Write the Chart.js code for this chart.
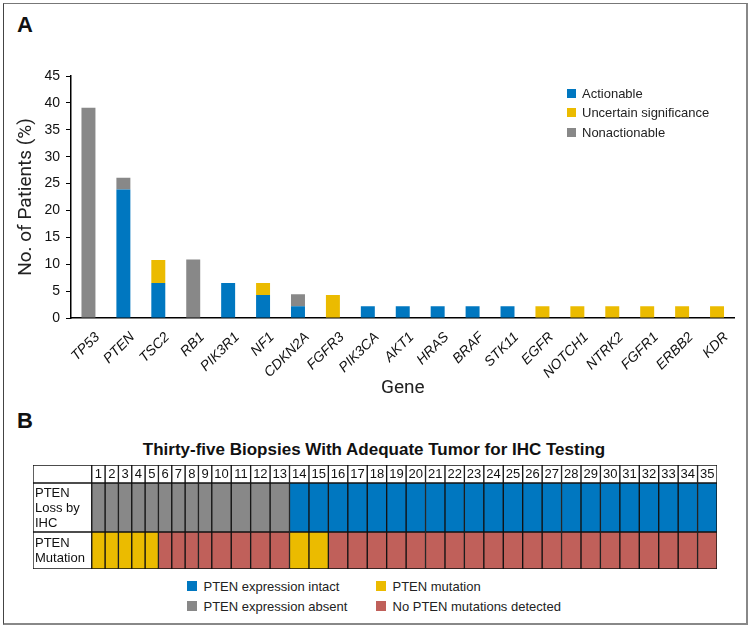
<!DOCTYPE html>
<html><head><meta charset="utf-8">
<script src="https://cdn.jsdelivr.net/npm/chart.js@4/dist/chart.umd.min.js"></script>
<style>
html,body{margin:0;padding:0;background:#fff;}
body{width:750px;height:628px;position:relative;overflow:hidden;font-family:"Liberation Sans",Arial,sans-serif;color:#1a1a1a;}
#frame{position:absolute;left:3px;top:3px;width:742px;height:619px;border-left:1px solid #444;border-top:1px solid #777;border-right:2px solid #888;border-bottom:2px solid #888;}
.abs{position:absolute;white-space:nowrap;line-height:1;}
.panel{font-weight:bold;font-size:22px;color:#111;}
.sq{position:absolute;}
.lg{position:absolute;font-size:13px;line-height:1;white-space:nowrap;color:#222;}
canvas{position:absolute;}
</style>
</head>
<body>
<div id="frame"></div>
<div class="abs panel" style="left:17px;top:14px;">A</div>
<div class="abs panel" style="left:17px;top:410px;">B</div>
<div class="abs" id="titleB" style="left:0;width:748px;text-align:center;top:441px;font-weight:bold;font-size:17px;color:#111;">Thirty-five Biopsies With Adequate Tumor for IHC Testing</div>
<canvas id="chartA" width="750" height="400" style="left:0;top:0;"></canvas>
<canvas id="rowHead" width="684" height="18" style="left:33px;top:465px;"></canvas>
<canvas id="rowIHC" width="684" height="49" style="left:33px;top:483px;"></canvas>
<canvas id="rowMut" width="684" height="37" style="left:33px;top:532px;"></canvas>
<div id="legendA"></div>
<div id="legendB"></div>
<script>
// ---------- Panel A data ----------
const genes = ['TP53','PTEN','TSC2','RB1','PIK3R1','NF1','CDKN2A','FGFR3','PIK3CA','AKT1','HRAS','BRAF','STK11','EGFR','NOTCH1','NTRK2','FGFR1','ERBB2','KDR'];
const actionable    = [0, 23.9, 6.5, 0, 6.5, 4.3, 2.2, 0, 2.2, 2.2, 2.2, 2.2, 2.2, 0, 0, 0, 0, 0, 0];
const uncertain     = [0, 0, 4.3, 0, 0, 2.2, 0, 4.3, 0, 0, 0, 0, 0, 2.2, 2.2, 2.2, 2.2, 2.2, 2.2];
const nonactionable = [39.1, 2.2, 0, 10.9, 0, 0, 2.2, 0, 0, 0, 0, 0, 0, 0, 0, 0, 0, 0, 0];
const seriesNames = ['Actionable','Uncertain significance','Nonactionable'];
const yTicks = [0,5,10,15,20,25,30,35,40,45];

// ---------- Panel B data ----------
const sampleLabels = ['1','2','3','4','5','6','7','8','9','10','11','12','13','14','15','16','17','18','19','20','21','22','23','24','25','26','27','28','29','30','31','32','33','34','35'];
const rowLabelIHC = ['PTEN','Loss by','IHC'];
const rowLabelMut = ['PTEN','Mutation'];
const ihcStatus = ['absent','absent','absent','absent','absent','absent','absent','absent','absent','absent','absent','absent','absent',
  'intact','intact','intact','intact','intact','intact','intact','intact','intact','intact','intact','intact','intact','intact','intact','intact','intact','intact','intact','intact','intact','intact'];
const mutationStatus = ['mutation','mutation','mutation','mutation','mutation','none','none','none','none','none','none','none','none',
  'mutation','mutation','none','none','none','none','none','none','none','none','none','none','none','none','none','none','none','none','none','none','none','none'];
const legendBNames = {intact:'PTEN expression intact', mutation:'PTEN mutation', absent:'PTEN expression absent', none:'No PTEN mutations detected'};

// ---------- styles ----------
const BLUE = '#0077c0', YELLOW = '#ebbb00', GRAY = '#888888', RED = '#c0605a';
const seriesColors = [BLUE, YELLOW, GRAY];
const statusColors = {intact: BLUE, absent: GRAY, mutation: YELLOW, none: RED};
const FONT = '"Liberation Sans", Arial, sans-serif';
const COND = 'Roboto, "Liberation Sans", sans-serif';

// ---------- Chart A ----------
new Chart(document.getElementById('chartA'), {
  type: 'bar',
  data: {
    labels: genes,
    datasets: [actionable, uncertain, nonactionable].map((d, i) => ({
      label: seriesNames[i], data: d, backgroundColor: seriesColors[i], borderWidth: 0,
      barPercentage: 0.4, categoryPercentage: 1.0
    }))
  },
  options: {
    responsive: false, animation: false, devicePixelRatio: 1,
    layout: {padding: {top: 76, right: 15.5, left: 0, bottom: 0}},
    plugins: {legend: {display: false}, tooltip: {enabled: false}},
    scales: {
      x: {
        stacked: true,
        grid: {display: false},
        border: {display: true, color: '#000', width: 1.5},
        ticks: {font: {family: FONT, size: 14, style: 'italic'}, color: '#111', minRotation: 45, maxRotation: 45, autoSkip: false, padding: 3, labelOffset: 9},
        title: {display: true, text: 'Gene', font: {family: COND, size: 19}, color: '#222', padding: {top: 0, bottom: 0}},
        afterFit: s => { s.height = 82; }
      },
      y: {
        stacked: true, min: 0, max: 45,
        afterBuildTicks: s => { s.ticks = yTicks.map(v => ({value: v})); },
        ticks: {font: {family: FONT, size: 14}, color: '#111', padding: 6},
        grid: {drawOnChartArea: false, drawTicks: true, tickLength: 5, color: '#000', lineWidth: 1},
        border: {display: true, color: '#000', width: 1.5},
        title: {display: true, text: 'No. of Patients (%)', font: {family: COND, size: 19}, color: '#222', padding: {top: 15, bottom: 0}},
        afterFit: s => { s.width = 71; }
      }
    }
  }
});

// ---------- Legends (HTML) ----------
function legendItem(parent, color, text, sqLeft, sqTop, sqSize, txtLeft, txtTop) {
  const s = document.createElement('div');
  s.className = 'sq';
  s.style.cssText = `left:${sqLeft}px;top:${sqTop}px;width:${sqSize}px;height:${sqSize}px;background:${color};`;
  parent.appendChild(s);
  const t = document.createElement('div');
  t.className = 'lg';
  t.style.cssText = `left:${txtLeft}px;top:${txtTop}px;`;
  t.textContent = text;
  parent.appendChild(t);
}
const lgA = document.getElementById('legendA');
seriesNames.forEach((n, i) => {
  const cy = 93 + i * 19.6;
  legendItem(lgA, seriesColors[i], n, 567, cy - 4.5, 9, 582, cy - 6.5);
});
const lgB = document.getElementById('legendB');
[['intact', 0, 0], ['mutation', 1, 0], ['absent', 0, 1], ['none', 1, 1]].forEach(([k, c, r]) => {
  const cy = 586 + r * 20;
  const sx = c === 0 ? 187 : 376;
  legendItem(lgB, statusColors[k], legendBNames[k], sx, cy - 5, 10, sx + 16.5, cy - 6.5);
});

// ---------- Panel B table rows ----------
const LABEL_W = 58.7;
const colWidth = lbl => 7.24 + 6.09 * lbl.length;
const bounds = [];
let xx = LABEL_W;
sampleLabels.forEach(l => { const w = colWidth(l); bounds.push([xx, xx + w]); xx += w; });
const TOTAL = xx;

const cellTextPlugin = {
  id: 'cellText',
  afterDatasetsDraw(chart) {
    const ctx = chart.ctx;
    ctx.save();
    ctx.fillStyle = '#111';
    ctx.font = `13px ${FONT}`;
    ctx.textBaseline = 'middle';
    chart.data.datasets.forEach((ds, i) => {
      if (!ds.cellText) return;
      const el = chart.getDatasetMeta(i).data[0];
      const left = Math.min(el.x, el.base), right = Math.max(el.x, el.base);
      const cy = el.y;
      const lines = ds.cellText;
      const lh = 15;
      lines.forEach((ln, j) => {
        const y = cy + (j - (lines.length - 1) / 2) * lh + 0.5;
        if (ds.cellAlign === 'left') { ctx.textAlign = 'left'; ctx.fillText(ln, left + 2, y); }
        else { ctx.textAlign = 'center'; ctx.fillText(ln, (left + right) / 2, y); }
      });
    });
    ctx.restore();
  }
};

function rowChart(id, labelLines, colors, texts) {
  const datasets = [{
    data: [[0, LABEL_W]], backgroundColor: '#fff', cellText: labelLines, cellAlign: 'left'
  }];
  bounds.forEach((b, i) => {
    datasets.push({data: [[b[0], b[1]]], backgroundColor: colors[i], cellText: texts ? [texts[i]] : null, cellAlign: 'center'});
  });
  datasets.forEach(d => Object.assign(d, {borderColor: '#111', borderWidth: 1, borderSkipped: false, grouped: false, barPercentage: 1, categoryPercentage: 1}));
  new Chart(document.getElementById(id), {
    type: 'bar',
    data: {labels: [''], datasets},
    options: {
      indexAxis: 'y', responsive: false, animation: false, devicePixelRatio: 1,
      layout: {padding: 0},
      plugins: {legend: {display: false}, tooltip: {enabled: false}},
      scales: {
        x: {type: 'linear', min: 0, max: TOTAL, display: false},
        y: {display: false}
      }
    },
    plugins: [cellTextPlugin]
  });
}
rowChart('rowHead', [''], sampleLabels.map(() => '#fff'), sampleLabels);
rowChart('rowIHC', rowLabelIHC, ihcStatus.map(s => statusColors[s]), null);
rowChart('rowMut', rowLabelMut, mutationStatus.map(s => statusColors[s]), null);
</script>
</body></html>
